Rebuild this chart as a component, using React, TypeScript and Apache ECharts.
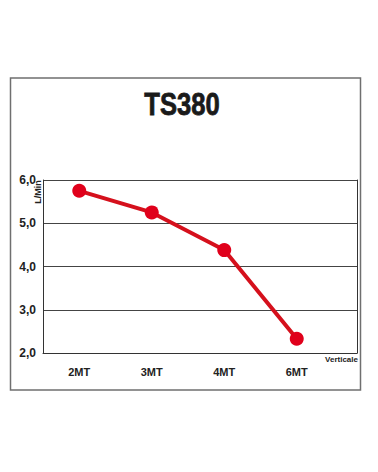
import React, { useEffect, useRef } from "react";
import * as echarts from "echarts";

const title = "TS380";
const categories = ["2MT", "3MT", "4MT", "6MT"];
const flowValues = [5.75, 5.25, 4.38, 2.33];
const yTicks = [2, 3, 4, 5, 6];
const yUnit = "L/Min";
const xUnit = "Verticale";

export default function App() {
  const ref = useRef<HTMLDivElement>(null);
  useEffect(() => {
    if (!ref.current) return;
    const chart = echarts.init(ref.current, null, { renderer: "svg" });
    const yMin = yTicks[0];
    const yMax = yTicks[yTicks.length - 1];
    chart.setOption({
      animation: false,
      backgroundColor: "#ffffff",
      graphic: [
        {
          type: "rect",
          shape: { x: 10.5, y: 78, width: 350, height: 312 },
          style: { fill: "none", stroke: "#6f6f6f", lineWidth: 1.5 },
          z: 0,
        },
        {
          type: "text",
          x: 182,
          y: 104,
          scaleX: 0.8,
          style: {
            text: title,
            fontSize: 32,
            fontWeight: "bold",
            fontFamily: "Liberation Sans",
            fill: "#1a1a1a",
            stroke: "#1a1a1a",
            lineWidth: 0.8,
            align: "center",
            verticalAlign: "middle",
          },
        },
        {
          type: "text",
          x: 38,
          y: 192,
          rotation: Math.PI / 2,
          style: {
            text: yUnit,
            fontSize: 9,
            fontWeight: "bold",
            fontFamily: "Liberation Sans",
            fill: "#222",
            align: "center",
            verticalAlign: "middle",
          },
        },
        {
          type: "text",
          x: 358,
          y: 359,
          style: {
            text: xUnit,
            fontSize: 8,
            fontWeight: "bold",
            fontFamily: "Liberation Sans",
            fill: "#222",
            align: "right",
            verticalAlign: "middle",
          },
        },
      ],
      grid: [
        { left: 43, right: 21, top: 180, bottom: 119, show: false },
        { left: 43, width: 290, top: 180, height: 173, show: false },
      ],
      xAxis: [
        {
          gridIndex: 0,
          type: "value",
          min: 0,
          max: 1,
          axisLine: { show: true, lineStyle: { color: "#333", width: 1 } },
          axisTick: { show: false },
          axisLabel: { show: false },
          splitLine: { show: false },
        },
        {
          gridIndex: 1,
          type: "category",
          data: categories,
          boundaryGap: true,
          axisLine: { show: false },
          axisTick: { show: false },
          axisLabel: {
            margin: 13,
            fontSize: 11,
            fontWeight: "bold",
            fontFamily: "Liberation Sans",
            color: "#222",
          },
        },
      ],
      yAxis: [
        {
          gridIndex: 0,
          type: "value",
          min: yMin,
          max: yMax,
          interval: 1,
          axisLine: { show: true, lineStyle: { color: "#333", width: 1 } },
          axisTick: { show: false },
          axisLabel: {
            margin: 7,
            fontSize: 12,
            fontWeight: "bold",
            fontFamily: "Liberation Sans",
            color: "#222",
            formatter: (v: number) => v.toFixed(1).replace(".", ","),
          },
          splitLine: { show: true, lineStyle: { color: "#444", width: 1 } },
        },
        {
          gridIndex: 0,
          type: "value",
          position: "right",
          min: yMin,
          max: yMax,
          interval: 1,
          axisLine: { show: true, lineStyle: { color: "#333", width: 1 } },
          axisTick: { show: false },
          axisLabel: { show: false },
          splitLine: { show: false },
        },
        {
          gridIndex: 1,
          type: "value",
          min: yMin,
          max: yMax,
          show: false,
        },
      ],
      series: [
        {
          type: "line",
          xAxisIndex: 1,
          yAxisIndex: 2,
          data: flowValues,
          symbol: "circle",
          symbolSize: 14,
          lineStyle: { color: "#d5101c", width: 4 },
          itemStyle: { color: "#e0001b" },
          z: 5,
        },
      ],
    });
    return () => chart.dispose();
  }, []);
  return (
    <div
      ref={ref}
      style={{ position: "fixed", left: 0, top: 0, width: 378, height: 472 }}
    />
  );
}
